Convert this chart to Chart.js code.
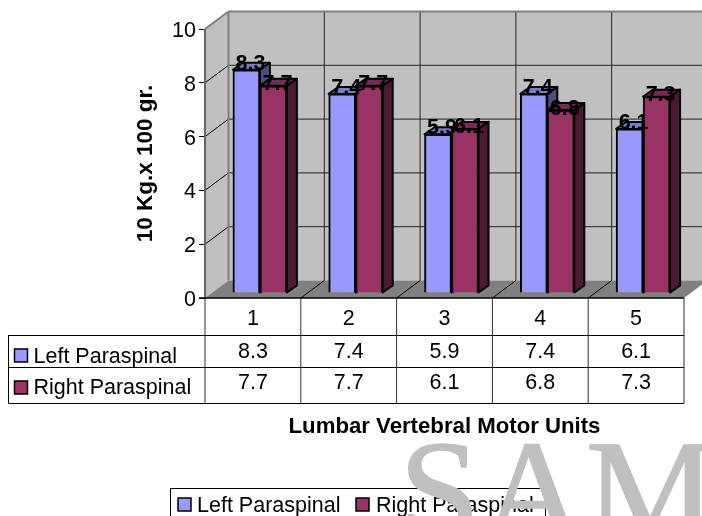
<!DOCTYPE html>
<html>
<head>
<meta charset="utf-8">
<style>
  html, body { margin: 0; padding: 0; background: #fff; overflow: hidden; }
  canvas { display: block; }
</style>
<script src="https://cdn.jsdelivr.net/npm/chart.js@4/dist/chart.umd.js"></script>
</head>
<body>
<canvas id="chart-1" width="702" height="516"></canvas>
<script>
const categories = ["1", "2", "3", "4", "5"];
const leftParaspinal = [8.3, 7.4, 5.9, 7.4, 6.1];
const rightParaspinal = [7.7, 7.7, 6.1, 6.8, 7.3];
const seriesNames = ["Left Paraspinal", "Right Paraspinal"];
const yTitle = "10 Kg.x 100 gr.";
const xTitle = "Lumbar Vertebral Motor Units";
const watermark = "SAM";

const FONT = "'Liberation Sans', Arial, sans-serif";
const SIZE = 21.5;

// perspective offsets
const wallDx = 23.5, wallDy = -17.5;
const barDx = 7, barDy = -5;
const depthDx = 10, depthDy = -7;

const seriesColors = [
  { front: "#9999ff", top: "#7a7acc", side: "#4d4d80" },
  { front: "#993366", top: "#7a2952", side: "#4d1a33" },
];

function poly(ctx, pts, fill, stroke, width) {
  ctx.beginPath();
  pts.forEach((p, i) => (i ? ctx.lineTo(p[0], p[1]) : ctx.moveTo(p[0], p[1])));
  ctx.closePath();
  if (fill) {
    ctx.fillStyle = fill;
    ctx.fill();
  }
  if (stroke) {
    ctx.strokeStyle = stroke;
    ctx.lineWidth = width || 1;
    ctx.stroke();
  }
}

function line(ctx, x1, y1, x2, y2, color, width) {
  ctx.beginPath();
  ctx.moveTo(x1, y1);
  ctx.lineTo(x2, y2);
  ctx.strokeStyle = color;
  ctx.lineWidth = width || 1;
  ctx.stroke();
}

const walls = {
  id: "walls",
  beforeDatasetsDraw(chart) {
    const { ctx, chartArea: a, scales } = chart;
    const y = scales.y;
    const x = scales.x;
    const bx = a.left + wallDx;
    const top = a.top + wallDy;
    const floor = a.bottom + wallDy;
    const right = a.right + wallDx;
    ctx.save();
    poly(ctx, [[a.left, a.bottom], [bx, floor], [bx, top], [a.left, a.top]], "#c0c0c0");
    poly(ctx, [[bx, top], [right, top], [right, floor], [bx, floor]], "#c0c0c0");
    poly(ctx, [[a.left, a.bottom], [a.right, a.bottom], [right, floor], [bx, floor]], "#808080");

    y.ticks.forEach((t) => {
      if (t.value === 0 || t.value === 10) return;
      const py = y.getPixelForValue(t.value);
      line(ctx, a.left, py, bx, py + wallDy, "#000");
      line(ctx, bx, py + wallDy, right, py + wallDy, "#222");
    });
    categories.forEach((c, i) => {
      if (i === 0) return;
      const px = (x.getPixelForValue(i) + x.getPixelForValue(i - 1)) / 2;
      line(ctx, px + wallDx, top, px + wallDx, floor, "#222");
      line(ctx, px, a.bottom, px + wallDx, floor, "#000");
    });
    // wall outline
    line(ctx, bx, floor, bx, top, "#808080", 2);
    line(ctx, bx, top, right, top, "#808080", 2);
    line(ctx, a.left, a.top, bx, top, "#808080", 2);
    line(ctx, a.left, a.top, a.left, a.bottom, "#666", 2);
    line(ctx, a.left - 6, a.bottom, a.right, a.bottom, "#000", 1.5);

    // side and top faces go first so the front faces cover them
    chart.data.datasets.forEach((ds, d) => {
      const colors = seriesColors[d];
      chart.getDatasetMeta(d).data.forEach((bar) => {
        const l = bar.x - bar.width / 2 + barDx;
        const r = bar.x + bar.width / 2 + barDx;
        const t = bar.y + barDy;
        const b = bar.base + barDy;
        ctx.lineJoin = "round";
        poly(ctx, [[l, t], [r, t], [r + depthDx, t + depthDy], [l + depthDx, t + depthDy]], colors.top, "#000", 2);
        poly(ctx, [[r, t], [r + depthDx, t + depthDy], [r + depthDx, b + depthDy], [r, b]], colors.side, "#000", 2);
      });
    });
    ctx.restore();
  },
  beforeDatasetDraw(chart) {
    chart.ctx.save();
    chart.ctx.translate(barDx, barDy);
  },
  afterDatasetDraw(chart) {
    chart.ctx.restore();
  },
  afterDatasetsDraw(chart) {
    const { ctx, scales } = chart;
    const x = scales.x;
    ctx.save();

    // labels on the bars
    ctx.fillStyle = "#000";
    ctx.textAlign = "center";
    ctx.textBaseline = "alphabetic";
    ctx.font = `bold ${SIZE}px ${FONT}`;
    chart.data.datasets.forEach((ds, d) => {
      chart.getDatasetMeta(d).data.forEach((bar, i) => {
        const drop = d === 0 ? 0 : 4.5;
        ctx.fillText(ds.data[i].toFixed(1), bar.x + barDx + 4, bar.y + barDy + drop);
      });
    });
    ctx.font = `${SIZE}px ${FONT}`;

    // data table
    const tableLeft = 8.5;
    const tableRight = chart.chartArea.right;
    const rows = [335, 367, 403];
    rows.forEach((py) => line(ctx, tableLeft, py + 0.5, tableRight, py + 0.5, "#000"));
    line(ctx, tableLeft, 335, tableLeft, 403.5, "#000");
    categories.forEach((c, i) => {
      const px = x.getPixelForValue(i) - (x.getPixelForValue(1) - x.getPixelForValue(0)) / 2;
      line(ctx, px, 298, px, 403.5, "#333");
    });
    line(ctx, tableRight, 298, tableRight, 403.5, "#333");
    const series = [leftParaspinal, rightParaspinal];
    const rowMid = [357.5, 388.5];
    const keyTop = [349, 381];
    series.forEach((vals, r) => {
      poly(ctx, [[14.5, keyTop[r]], [27.5, keyTop[r]], [27.5, keyTop[r] + 13], [14.5, keyTop[r] + 13]], seriesColors[r].front, "#000", 1.5);
      ctx.fillStyle = "#000";
      ctx.textAlign = "left";
      ctx.fillText(seriesNames[r], 33.5, rowMid[r] + 5.5);
      ctx.textAlign = "center";
      vals.forEach((v, i) => ctx.fillText(v.toFixed(1), x.getPixelForValue(i), rowMid[r]));
    });

    // legend
    line(ctx, 170, 488.5, 546, 488.5, "#000");
    line(ctx, 170.5, 488, 170.5, 516, "#000");
    line(ctx, 545.5, 488, 545.5, 516, "#000");
    const legendKeys = [178, 356];
    const legendText = [197, 376];
    seriesNames.forEach((name, r) => {
      poly(ctx, [[legendKeys[r], 498], [legendKeys[r] + 13, 498], [legendKeys[r] + 13, 511], [legendKeys[r], 511]], seriesColors[r].front, "#000", 1.5);
      ctx.fillStyle = "#000";
      ctx.textAlign = "left";
      ctx.fillText(name, legendText[r], 512);
    });

    // watermark sits over everything
    ctx.fillStyle = "#c0c0c0";
    ctx.strokeStyle = "#c0c0c0";
    ctx.lineWidth = 1.5;
    ctx.font = "146px 'Liberation Serif', 'Times New Roman', serif";
    ctx.textAlign = "left";
    ctx.fillText(watermark, 399, 541);
    ctx.strokeText(watermark, 399, 541);
    ctx.restore();
  },
};

const config = {
  type: "bar",
  data: {
    labels: categories,
    datasets: [
      {
        label: seriesNames[0],
        data: leftParaspinal,
        backgroundColor: seriesColors[0].front,
        borderColor: "#000",
        borderWidth: 2,
      },
      {
        label: seriesNames[1],
        data: rightParaspinal,
        backgroundColor: seriesColors[1].front,
        borderColor: "#000",
        borderWidth: 2,
      },
    ],
  },
  options: {
    responsive: false,
    animation: false,
    barThickness: 27,
    clip: false,
    layout: { padding: { left: 125, top: 29, right: 18, bottom: 76 } },
    plugins: { legend: { display: false }, title: { display: false }, tooltip: { enabled: false } },
    scales: {
      x: {
        grid: { display: false },
        border: { display: false },
        ticks: { color: "#000", padding: 0, maxRotation: 0, font: { family: FONT, size: SIZE } },
        title: {
          display: true,
          text: xTitle,
          color: "#000",
          padding: 0,
          font: { family: FONT, size: 22.2, weight: "bold" },
        },
        afterFit(scale) {
          scale.height = 142;
        },
      },
      y: {
        min: 0,
        max: 10,
        grid: { drawOnChartArea: false, tickLength: 6, color: "#000" },
        border: { display: false },
        ticks: {
          stepSize: 2,
          color: "#000",
          padding: 3,
          font: { family: FONT, size: SIZE, lineHeight: 0.2 },
          // blank first line nudges the digits down onto the tick
          callback: (v) => ["", String(v)],
        },
        title: {
          display: true,
          text: yTitle,
          color: "#000",
          padding: { top: 7, bottom: 0 },
          font: { family: FONT, size: 22.5, weight: "bold" },
        },
        afterFit(scale) {
          scale.width = 80;
        },
      },
    },
  },
  plugins: [walls],
};

new Chart(document.getElementById("chart-1"), config);
</script>
</body>
</html>
